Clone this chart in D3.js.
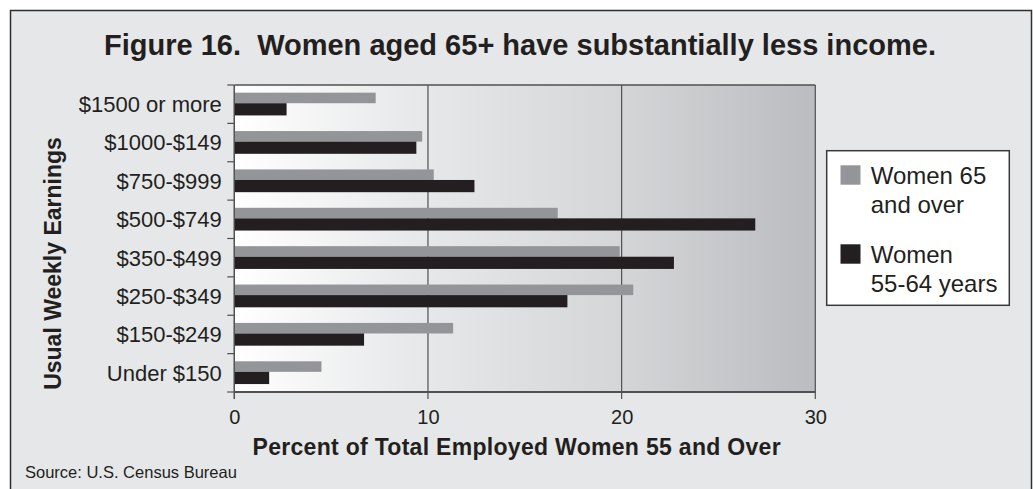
<!DOCTYPE html>
<html>
<head>
<meta charset="utf-8">
<script src="https://cdn.jsdelivr.net/npm/d3@7"></script>
<style>
  html, body { margin: 0; padding: 0; background: #ffffff; }
  svg { display: block; }
  text { font-family: "Liberation Sans", Arial, Helvetica, sans-serif; fill: #231f20; }
</style>
</head>
<body>
<svg id="chart" width="1033" height="489"></svg>
<script>
// Usual weekly earnings brackets, top to bottom
const categories = [
  "$1500 or more",
  "$1000-$149",
  "$750-$999",
  "$500-$749",
  "$350-$499",
  "$250-$349",
  "$150-$249",
  "Under $150"
];
// Percent of total employed women 55 and over, by bracket
const women65Plus = [7.3, 9.7, 10.3, 16.7, 19.9, 20.6, 11.3, 4.5];
const women55to64 = [2.7, 9.4, 12.4, 26.9, 22.7, 17.2, 6.7, 1.8];
const seriesNames = [["Women 65", "and over"], ["Women", "55-64 years"]];
const xTicks = [0, 10, 20, 30];

const titleText = "Figure 16.  Women aged 65+ have substantially less income.";
const xTitle = "Percent of Total Employed Women 55 and Over";
const yTitle = "Usual Weekly Earnings";
const sourceText = "Source: U.S. Census Bureau";

const colGray = "#939598";
const colBlack = "#231f20";
const lineCol = "#505052";

const svg = d3.select("#chart");

// outer panel
svg.append("rect")
  .attr("x", 10.5).attr("y", 10.5)
  .attr("width", 1021).attr("height", 490)
  .attr("fill", "#e6e7e8")
  .attr("stroke", "#2f2f30").attr("stroke-width", 1.5);

const plot = { left: 234.3, right: 815.3, top: 85, bottom: 392 };

const x = d3.scaleLinear().domain([0, 30]).range([plot.left, plot.right]);
const y = d3.scaleBand().domain(categories).range([plot.top, plot.bottom]);
const bw = y.bandwidth();

// plot background gradient
const defs = svg.append("defs");
const grad = defs.append("linearGradient").attr("id", "plotBg")
  .attr("x1", "0%").attr("x2", "100%").attr("y1", "0%").attr("y2", "0%");
grad.append("stop").attr("offset", "0%").attr("stop-color", "#ffffff");
grad.append("stop").attr("offset", "30%").attr("stop-color", "#e8e9ea");
grad.append("stop").attr("offset", "66%").attr("stop-color", "#d5d6d8");
grad.append("stop").attr("offset", "100%").attr("stop-color", "#bbbcbf");

svg.append("rect")
  .attr("x", plot.left).attr("y", plot.top)
  .attr("width", plot.right - plot.left).attr("height", plot.bottom - plot.top)
  .attr("fill", "url(#plotBg)");

// vertical gridlines (extend below axis as tick marks)
svg.append("g").selectAll("line")
  .data(xTicks)
  .join("line")
  .attr("x1", d => x(d)).attr("x2", d => x(d))
  .attr("y1", plot.top).attr("y2", plot.bottom + 7)
  .attr("stroke", lineCol).attr("stroke-width", 1.2);

// top border
svg.append("line")
  .attr("x1", plot.left).attr("x2", plot.right)
  .attr("y1", plot.top).attr("y2", plot.top)
  .attr("stroke", lineCol).attr("stroke-width", 1.5);

// bars
const rows = categories.map((c, i) => ({ c, a: women65Plus[i], b: women55to64[i] }));

svg.append("g").selectAll("rect")
  .data(rows)
  .join("rect")
  .attr("x", x(0))
  .attr("y", d => y(d.c) + bw * 0.2)
  .attr("width", d => x(d.a) - x(0))
  .attr("height", bw * 0.275)
  .attr("fill", colGray);

svg.append("g").selectAll("rect")
  .data(rows)
  .join("rect")
  .attr("x", x(0))
  .attr("y", d => y(d.c) + bw * 0.475)
  .attr("width", d => x(d.b) - x(0))
  .attr("height", bw * 0.318)
  .attr("fill", colBlack);

// left axis line and boundary ticks
svg.append("line")
  .attr("x1", plot.left).attr("x2", plot.left)
  .attr("y1", plot.top).attr("y2", plot.bottom + 7)
  .attr("stroke", lineCol).attr("stroke-width", 1.2);

const boundaries = categories.map(c => y(c)).concat([plot.bottom]);
svg.append("g").selectAll("line")
  .data(boundaries)
  .join("line")
  .attr("x1", plot.left - 7).attr("x2", plot.left)
  .attr("y1", d => d).attr("y2", d => d)
  .attr("stroke", lineCol).attr("stroke-width", 1.2);

// bottom axis line
svg.append("line")
  .attr("x1", plot.left).attr("x2", plot.right)
  .attr("y1", plot.bottom).attr("y2", plot.bottom)
  .attr("stroke", lineCol).attr("stroke-width", 2);

// category labels
const yAxis = d3.axisLeft(y).tickSize(0).tickPadding(12.5);
const gy = svg.append("g").attr("transform", `translate(${plot.left},0)`).call(yAxis);
gy.select(".domain").remove();
gy.selectAll("text")
  .attr("dy", "0.36em")
  .style("font-size", "22px")
  .style("fill", "#231f20");

// x tick labels
const xAxis = d3.axisBottom(x).tickValues(xTicks).tickSize(0).tickPadding(18);
const gx = svg.append("g").attr("transform", `translate(0,${plot.bottom})`).call(xAxis);
gx.select(".domain").remove();
gx.selectAll("text")
  .style("font-size", "20px")
  .style("fill", "#231f20");

// title
svg.append("text")
  .attr("x", 520).attr("y", 54.5)
  .attr("text-anchor", "middle")
  .style("font-size", "29px").style("font-weight", "bold")
  .style("white-space", "pre")
  .text(titleText);

// axis titles
svg.append("text")
  .attr("x", 516.7).attr("y", 455.3)
  .attr("text-anchor", "middle")
  .style("font-size", "23px").style("font-weight", "bold")
  .style("letter-spacing", "0.3px")
  .text(xTitle);

svg.append("text")
  .attr("transform", "translate(61,263.5) rotate(-90)")
  .attr("text-anchor", "middle")
  .style("font-size", "23px").style("font-weight", "bold")
  .text(yTitle);

// source
svg.append("text")
  .attr("x", 25).attr("y", 478.3)
  .style("font-size", "16.5px")
  .text(sourceText);

// legend
const lg = svg.append("g");
lg.append("rect")
  .attr("x", 826.7).attr("y", 150.7)
  .attr("width", 182.6).attr("height", 154.6)
  .attr("fill", "#ffffff")
  .attr("stroke", "#3a3a3b").attr("stroke-width", 1.5);

const legendItems = [
  { color: colGray, lines: seriesNames[0], top: 165.3 },
  { color: colBlack, lines: seriesNames[1], top: 244.3 }
];
legendItems.forEach(item => {
  lg.append("rect")
    .attr("x", 840.5).attr("y", item.top)
    .attr("width", 20).attr("height", 19.4)
    .attr("fill", item.color);
  item.lines.forEach((t, j) => {
    lg.append("text")
      .attr("x", 870.7).attr("y", item.top + 18.7 + j * 29)
      .style("font-size", "24px")
      .text(t);
  });
});
</script>
</body>
</html>
